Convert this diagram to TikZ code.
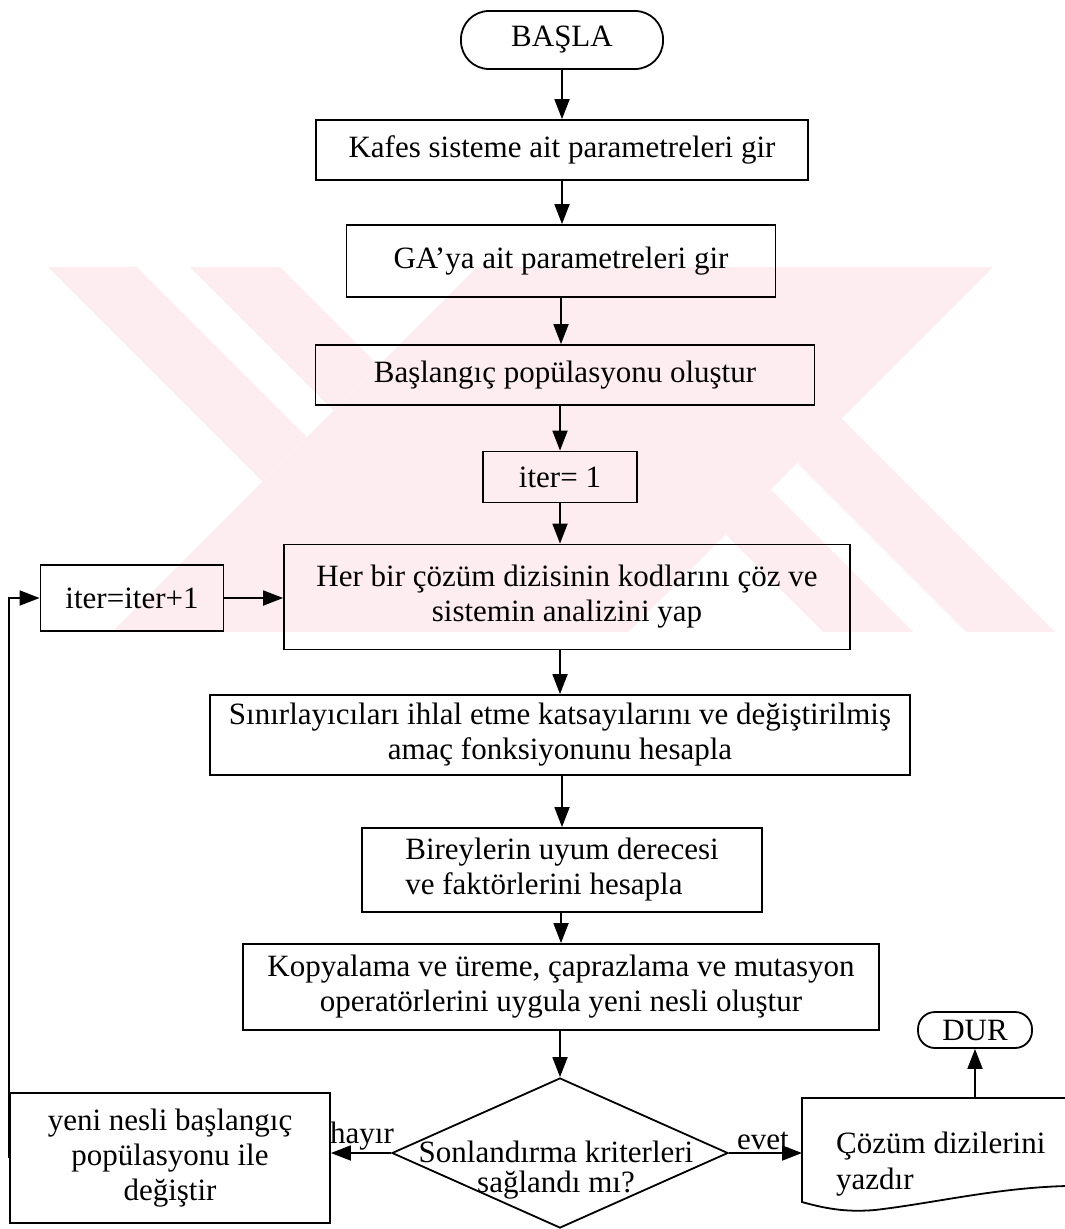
\documentclass[tikz,border=0pt]{standalone}
\usepackage{fontspec}
\setmainfont{Liberation Serif}
\usetikzlibrary{arrows.meta,shapes.geometric}
\definecolor{wm}{RGB}{253,237,240}
\begin{document}
\begin{tikzpicture}[x=1pt,y=-1pt,
  box/.style={draw, line width=1.8pt, inner sep=0pt, font=\fontsize{31}{35}\selectfont, align=center},
  lbl/.style={inner sep=0pt, font=\fontsize{31}{35}\selectfont},
  arr/.style={line width=1.8pt, -{Triangle[length=20pt,width=15pt]}}]
\useasboundingbox (0,0) rectangle (1065,1229);
% faint watermark
\fill[wm] (48,267) -- (137,267) -- (307,437) -- (262.5,481.5) -- cycle;
\fill[wm] (190,267) -- (280,267) -- (378.5,365.5) -- (333.5,410.5) -- cycle;
\fill[wm] (477,267) -- (993,267) -- (628,632) -- (112,632) -- cycle;
\fill[wm] (725.5,534.5) -- (770.5,489.5) -- (913,632) -- (823,632) -- cycle;
\fill[wm] (797,463) -- (841.5,418.5) -- (1055,632) -- (966,632) -- cycle;
% nodes
\node[box, rounded corners=28pt, minimum width=202pt, minimum height=58pt] (basla) at (562,40) {BAŞLA};
\node[box, minimum width=492pt, minimum height=60pt] (kafes) at (562,150) {Kafes sisteme ait parametreleri gir};
\node[box, minimum width=429pt, minimum height=72pt] (gaya) at (561,261) {GA’ya ait parametreleri gir};
\node[box, minimum width=499pt, minimum height=60pt] (basl) at (565,375) {Başlangıç popülasyonu oluştur};
\node[box, minimum width=154pt, minimum height=51pt] (iter1) at (560,477) {iter= 1};
\node[box, minimum width=566pt, minimum height=105pt] (herbir) at (567,597) {Her bir çözüm dizisinin kodlarını çöz ve\\sistemin analizini yap};
\node[box, minimum width=183pt, minimum height=66pt] (iterp) at (132,598) {iter=iter+1};
\node[box, minimum width=700pt, minimum height=80pt] (sinir) at (560,735) {Sınırlayıcıları ihlal etme katsayılarını ve değiştirilmiş\\amaç fonksiyonunu hesapla};
\node[box, minimum width=400pt, minimum height=84pt, align=left] (birey) at (562,870) {Bireylerin uyum derecesi\\ve faktörlerini hesapla};
\node[box, minimum width=636pt, minimum height=86pt] (kopya) at (561,987) {Kopyalama ve üreme, çaprazlama ve mutasyon\\operatörlerini uygula yeni nesli oluştur};
\node[draw, diamond, line width=1.8pt, minimum width=336pt, minimum height=150pt, inner sep=0pt] (dia) at (560,1153) {};
\node[lbl, align=center, font=\fontsize{31}{30}\selectfont] (diatext) at (556,1170) {Sonlandırma kriterleri\\sağlandı mı?};
\node[box, minimum width=320pt, minimum height=130pt] (yeni) at (170,1158) {yeni nesli başlangıç\\popülasyonu ile\\değiştir};
\node[box, rounded corners=17pt, minimum width=114pt, minimum height=36pt] (dur) at (975,1030) {DUR};
% document shape
\draw[line width=1.8pt] (1066,1098) -- (802,1098) -- (802,1202)
  .. controls (830,1210) and (850,1212) .. (875,1210)
  .. controls (935,1203) and (995,1188) .. (1066,1186);
\node[lbl, align=left, anchor=west, font=\fontsize{31}{36}\selectfont] (cozum) at (836,1164) {Çözüm dizilerini\\yazdır};
\coordinate (cozL) at (802,1153);
\coordinate (cozT) at (975,1098);
% labels
\node[lbl, anchor=south] (hayir) at (362,1150) {hayır};
\node[lbl, anchor=south] (evet) at (763,1150) {evet};
% connectors
\draw[arr] (basla.south) -- (basla.south |- kafes.north);
\draw[arr] (kafes.south) -- (kafes.south |- gaya.north);
\draw[arr] (gaya.south) -- (gaya.south |- basl.north);
\draw[arr] (basl.south -| iter1.north) -- (iter1.north);
\draw[arr] (iter1.south) -- (iter1.south |- herbir.north);
\draw[arr] (iterp.east) -- (iterp.east -| herbir.west);
\draw[arr] (herbir.south -| sinir.north) -- (sinir.north);
\draw[arr] (sinir.south -| birey.north) -- (birey.north);
\draw[arr] (birey.south -| kopya.north) -- (kopya.north);
\draw[arr] (kopya.south -| dia.north) -- (dia.north);
\draw[arr] (dia.west) -- (dia.west -| yeni.east);
\draw[arr] (dia.east) -- (cozL);
\draw[arr] (cozT) -- (dur.south);
\draw[arr] (yeni.west) |- (iterp.west);
\end{tikzpicture}
\end{document}
